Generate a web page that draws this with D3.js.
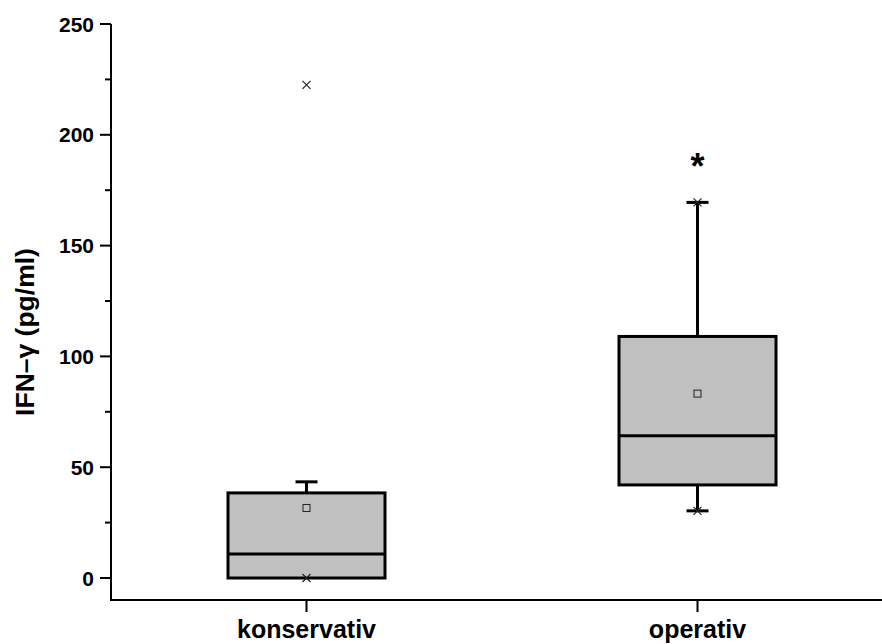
<!doctype html>
<html lang="en">
<head>
  <meta charset="utf-8">
  <title>IFN-gamma</title>
  <script src="https://cdn.jsdelivr.net/npm/d3@7"></script>
  <style>
    body{margin:0;background:#fff}
    svg{display:block;font-family:"Liberation Sans",Arial,sans-serif;font-weight:bold}
  </style>
</head>
<body>
<div id="container"></div>
<script>
// data
var categories = ["konservativ", "operativ"];
var q1 = [0, 42];
var median = [10.8, 64.2];
var q3 = [38.4, 109];
var whiskLow = [0, 30.3];
var whiskHigh = [43.4, 169.5];
var means = [31.6, 83.2];
var minVals = [0, 30.3];
var maxVals = [222.5, 169.5];
var yTicks = [0, 50, 100, 150, 200, 250];
var yMinor = [25, 75, 125, 175, 225];
var signif = ["", "*"];

var W = 882, H = 644;
var svg = d3.select("#container").append("svg").attr("width", W).attr("height", H);

var x = d3.scalePoint().domain(categories).range([111, 893]).padding(0.5),
    y = d3.scaleLinear().domain([0, 250]).range([578, 24]);
var boxW = 157, capW = 22;

// axes
svg.append("line").attr("x1", 111).attr("x2", 111).attr("y1", y(250)).attr("y2", 600)
  .attr("stroke", "#000").attr("stroke-width", 2);
svg.append("line").attr("x1", 110).attr("x2", W).attr("y1", 600).attr("y2", 600)
  .attr("stroke", "#000").attr("stroke-width", 2);

var yAxis = svg.append("g");
yAxis.selectAll("line.major").data(yTicks).enter().append("line")
  .attr("x1", 100).attr("x2", 111).attr("y1", d => y(d)).attr("y2", d => y(d))
  .attr("stroke", "#000").attr("stroke-width", 2);
yAxis.selectAll("line.minor").data(yMinor).enter().append("line")
  .attr("x1", 105).attr("x2", 111).attr("y1", d => y(d)).attr("y2", d => y(d))
  .attr("stroke", "#000").attr("stroke-width", 2);
yAxis.selectAll("text").data(yTicks).enter().append("text")
  .attr("x", 94).attr("y", d => y(d)).attr("dy", "0.36em")
  .attr("text-anchor", "end").attr("font-size", 21).text(d => d);

svg.selectAll("line.xt").data(categories).enter().append("line")
  .attr("x1", d => x(d)).attr("x2", d => x(d)).attr("y1", 600).attr("y2", 612)
  .attr("stroke", "#000").attr("stroke-width", 2);
svg.selectAll("text.xl").data(categories).enter().append("text")
  .attr("x", d => x(d)).attr("y", 638).attr("text-anchor", "middle")
  .attr("font-size", 25).text(d => d);

svg.append("text").attr("transform", "translate(34,332) rotate(-90)")
  .attr("text-anchor", "middle").attr("font-size", 26.5).text("IFN\u2013\u03b3 (pg/ml)");

// boxes
var g = svg.append("g");
categories.forEach(function (c, i) {
  var cx = x(c);
  // whiskers
  g.append("line").attr("x1", cx).attr("x2", cx).attr("y1", y(q3[i])).attr("y2", y(whiskHigh[i]))
    .attr("stroke", "#000").attr("stroke-width", 3);
  g.append("line").attr("x1", cx).attr("x2", cx).attr("y1", y(q1[i])).attr("y2", y(whiskLow[i]))
    .attr("stroke", "#000").attr("stroke-width", 3);
  [whiskHigh[i], whiskLow[i]].forEach(function (v) {
    if (v === q1[i]) return;
    g.append("line").attr("x1", cx - capW / 2).attr("x2", cx + capW / 2).attr("y1", y(v)).attr("y2", y(v))
      .attr("stroke", "#000").attr("stroke-width", 3);
  });
  g.append("rect").attr("x", cx - boxW / 2).attr("width", boxW)
    .attr("y", y(q3[i])).attr("height", y(q1[i]) - y(q3[i]))
    .attr("fill", "#c0c0c0").attr("stroke", "#000").attr("stroke-width", 3);
  g.append("line").attr("x1", cx - boxW / 2).attr("x2", cx + boxW / 2)
    .attr("y1", y(median[i])).attr("y2", y(median[i]))
    .attr("stroke", "#000").attr("stroke-width", 3);
  // mean
  g.append("rect").attr("x", cx - 3.5).attr("y", y(means[i]) - 3.5).attr("width", 7).attr("height", 7)
    .attr("fill", "none").attr("stroke", "#222").attr("stroke-width", 1);
  // min / max crosses
  [minVals[i], maxVals[i]].forEach(function (v) {
    var py = y(v);
    g.append("path").attr("d", "M" + (cx - 4) + "," + (py - 4) + "L" + (cx + 4) + "," + (py + 4) +
      "M" + (cx - 4) + "," + (py + 4) + "L" + (cx + 4) + "," + (py - 4))
      .attr("stroke", "#222").attr("stroke-width", 1.2).attr("fill", "none");
  });
  if (signif[i]) {
    g.append("text").attr("x", cx).attr("y", y(whiskHigh[i]) - 23).attr("text-anchor", "middle")
      .attr("font-size", 36).text(signif[i]);
  }
});
</script>
</body>
</html>
